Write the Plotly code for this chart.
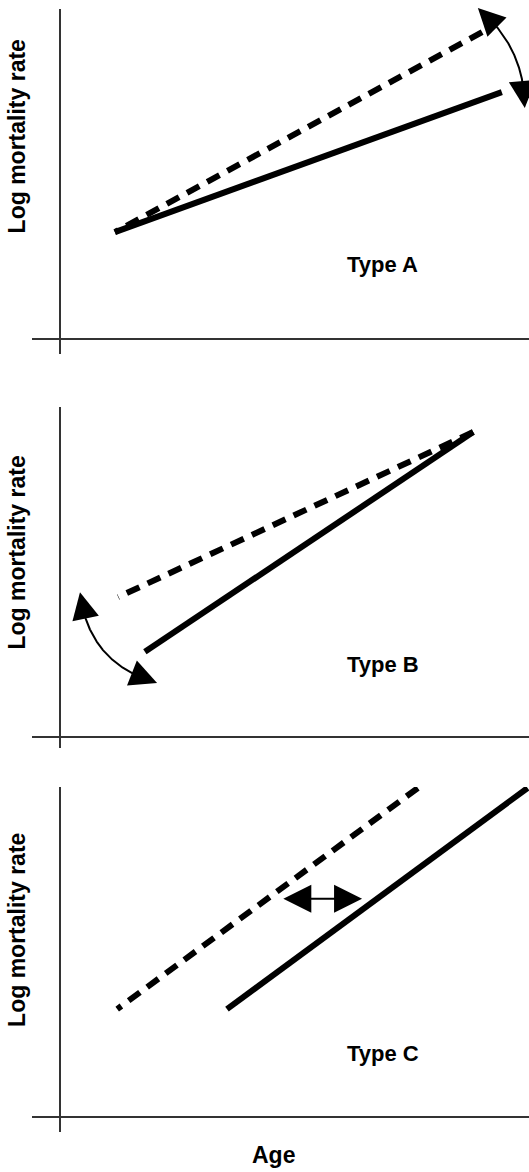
import numpy as np
import plotly.graph_objects as go

# ---------------------------------------------------------------------------
# Data: schematic log-mortality trajectories (age units, log-rate units)
# ---------------------------------------------------------------------------
PANEL_NAMES = ["Type A", "Type B", "Type C"]

# Type A - same starting level, steeper slope for the dashed trajectory
A_SOLID_AGE = [11.7, 94.2]
A_SOLID_LOG = [32.4, 74.8]
A_DASH_AGE = [11.7, 90.0]
A_DASH_LOG = [32.4, 93.0]

# Type B - same end level, shallower slope (higher start) for the dashed one
B_SOLID_AGE = [18.1, 88.1]
B_SOLID_LOG = [25.8, 92.4]
B_DASH_AGE = [12.4, 88.1]
B_DASH_LOG = [42.4, 92.4]

# Type C - parallel trajectories shifted along the age axis
C_SOLID_AGE = [35.6, 99.7]
C_SOLID_LOG = [32.7, 99.7]
C_DASH_AGE = [12.2, 76.3]
C_DASH_LOG = [32.7, 99.7]

# Arrow tips (age, log) indicating the kind of change in each panel
A_ARROW_TIPS = [(89.1, 100.3), (99.1, 70.0)]
B_ARROW_TIPS = [(4.26, 43.9), (20.7, 16.4)]
C_ARROW_TIPS = [(47.3, 66.1), (64.4, 66.1)]

# Label anchors
TYPE_LABEL_POS = [(68.8, 22.6), (68.9, 22.1), (68.9, 19.1)]
YLABEL_LOG_POS = [61.4, 55.9, 56.7]
Y_TITLE = "Log mortality rate"
X_TITLE = "Age"

# ---------------------------------------------------------------------------
# Geometry / style
# ---------------------------------------------------------------------------
W, H = 529, 1172
X_LEFT = 32            # left end of the age axis line (px)
X_ORIGIN = 60          # column where the two axes cross (px)
PX_PER_AGE = 4.69
PX_PER_LOG = 3.3
PANEL_TOP = [9, 407, 787]
PANEL_ORIGIN = [339, 737, 1117]
PANEL_BOTTOM = [354, 748, 1132]

AXIS_COLOR = "#333333"
INK = "#000000"
FONT = "Liberation Sans, Arial, sans-serif"
LINE_W = 6
DASH = "14px,9px"
HEAD_SCALE = 2.7       # annotation arrowsize
ARROW_W = 2            # annotation arrowwidth
HEAD_LEN = 5 * ARROW_W * HEAD_SCALE   # length of arrowhead style 2 (px)


def axis_ids(i):
    s = "" if i == 0 else str(i + 1)
    return "x" + s, "y" + s


def curved_path(tip0, tip1, bend):
    """Quadratic arc between two tips; returns trimmed arc and head tails."""
    p0 = np.array([tip0[0] * PX_PER_AGE, tip0[1] * PX_PER_LOG])
    p1 = np.array([tip1[0] * PX_PER_AGE, tip1[1] * PX_PER_LOG])
    d = p1 - p0
    u = d / np.linalg.norm(d)
    n = np.array([-u[1], u[0]])
    ctrl = (p0 + p1) / 2 + bend * n
    t = np.linspace(0, 1, 400)[:, None]
    pts = (1 - t) ** 2 * p0 + 2 * t * (1 - t) * ctrl + t ** 2 * p1
    seg = np.linalg.norm(np.diff(pts, axis=0), axis=1)
    s = np.concatenate([[0], np.cumsum(seg)])
    total = s[-1]
    keep = (s >= 0.5 * HEAD_LEN) & (s <= total - 0.5 * HEAD_LEN)
    arc = pts[keep]
    tail0 = pts[np.argmin(np.abs(s - HEAD_LEN))]
    tail1 = pts[np.argmin(np.abs(s - (total - HEAD_LEN)))]
    to_data = lambda p: (p[..., 0] / PX_PER_AGE, p[..., 1] / PX_PER_LOG)
    return to_data(arc), to_data(tail0), to_data(tail1)


fig = go.Figure()
annotations = []
layout_axes = {}

panels = [
    (A_SOLID_AGE, A_SOLID_LOG, A_DASH_AGE, A_DASH_LOG),
    (B_SOLID_AGE, B_SOLID_LOG, B_DASH_AGE, B_DASH_LOG),
    (C_SOLID_AGE, C_SOLID_LOG, C_DASH_AGE, C_DASH_LOG),
]

for i, (s_age, s_log, d_age, d_log) in enumerate(panels):
    xa, ya = axis_ids(i)
    # dashed trajectory (pattern starts at the upper end)
    fig.add_trace(go.Scatter(
        x=d_age[::-1], y=d_log[::-1], mode="lines", xaxis=xa, yaxis=ya,
        line=dict(color=INK, width=LINE_W, dash=DASH), hoverinfo="skip"))
    # solid trajectory
    fig.add_trace(go.Scatter(
        x=s_age, y=s_log, mode="lines", xaxis=xa, yaxis=ya,
        line=dict(color=INK, width=LINE_W), hoverinfo="skip"))

    n = "" if i == 0 else str(i + 1)
    top, org, bot = PANEL_TOP[i], PANEL_ORIGIN[i], PANEL_BOTTOM[i]
    layout_axes["xaxis" + n] = dict(
        domain=[X_LEFT / W, 1],
        range=[-(X_ORIGIN - X_LEFT) / PX_PER_AGE, (W - X_ORIGIN) / PX_PER_AGE],
        anchor=ya, showgrid=False, showticklabels=False, ticks="",
        showline=False, zeroline=True, zerolinecolor=AXIS_COLOR,
        zerolinewidth=2, fixedrange=True)
    layout_axes["yaxis" + n] = dict(
        domain=[1 - bot / H, 1 - top / H],
        range=[-(bot - org) / PX_PER_LOG, (org - top) / PX_PER_LOG],
        anchor=xa, showgrid=False, showticklabels=False, ticks="",
        showline=False, zeroline=True, zerolinecolor=AXIS_COLOR,
        zerolinewidth=2, fixedrange=True)

    # panel label
    annotations.append(dict(
        x=TYPE_LABEL_POS[i][0], y=TYPE_LABEL_POS[i][1], xref=xa, yref=ya,
        text=PANEL_NAMES[i], showarrow=False, xanchor="center",
        yanchor="middle",
        font=dict(family=FONT, size=22, color=INK, weight="bold")))
    # vertical axis title
    annotations.append(dict(
        x=17 / W, y=YLABEL_LOG_POS[i], xref="paper", yref=ya,
        text=Y_TITLE, showarrow=False, textangle=-90,
        xanchor="center", yanchor="middle",
        font=dict(family=FONT, size=23, color=INK, weight="bold")))


def add_curved_arrow(i, tips, bend):
    xa, ya = axis_ids(i)
    (ax_, ay_), tail0, tail1 = curved_path(tips[0], tips[1], bend)
    fig.add_trace(go.Scatter(
        x=ax_, y=ay_, mode="lines", xaxis=xa, yaxis=ya,
        line=dict(color=INK, width=ARROW_W), hoverinfo="skip"))
    for tip, tail in ((tips[0], tail0), (tips[1], tail1)):
        annotations.append(dict(
            x=tip[0], y=tip[1], ax=float(tail[0]), ay=float(tail[1]),
            xref=xa, yref=ya, axref=xa, ayref=ya, text="",
            showarrow=True, arrowhead=2, arrowsize=HEAD_SCALE,
            arrowwidth=ARROW_W, arrowcolor=INK, standoff=0))


add_curved_arrow(0, A_ARROW_TIPS, 26)
add_curved_arrow(1, B_ARROW_TIPS, -40)

# horizontal double-headed arrow for the age shift
xa, ya = axis_ids(2)
annotations.append(dict(
    x=C_ARROW_TIPS[1][0], y=C_ARROW_TIPS[1][1],
    ax=C_ARROW_TIPS[0][0], ay=C_ARROW_TIPS[0][1],
    xref=xa, yref=ya, axref=xa, ayref=ya, text="", showarrow=True,
    arrowside="end+start", arrowhead=2, startarrowhead=2,
    arrowsize=2.8, startarrowsize=2.8, arrowwidth=2, arrowcolor=INK,
    standoff=0, startstandoff=0))

# horizontal axis title
annotations.append(dict(
    x=273 / W, y=1 - 1155 / H, xref="paper", yref="paper", text=X_TITLE,
    showarrow=False, xanchor="center", yanchor="middle",
    font=dict(family=FONT, size=23, color=INK, weight="bold")))

fig.update_layout(
    width=W, height=H, margin=dict(l=0, r=0, t=0, b=0, pad=0),
    paper_bgcolor="white", plot_bgcolor="white", showlegend=False,
    hovermode=False, annotations=annotations, **layout_axes)

fig.write_html("out.html", config={"displayModeBar": False})
